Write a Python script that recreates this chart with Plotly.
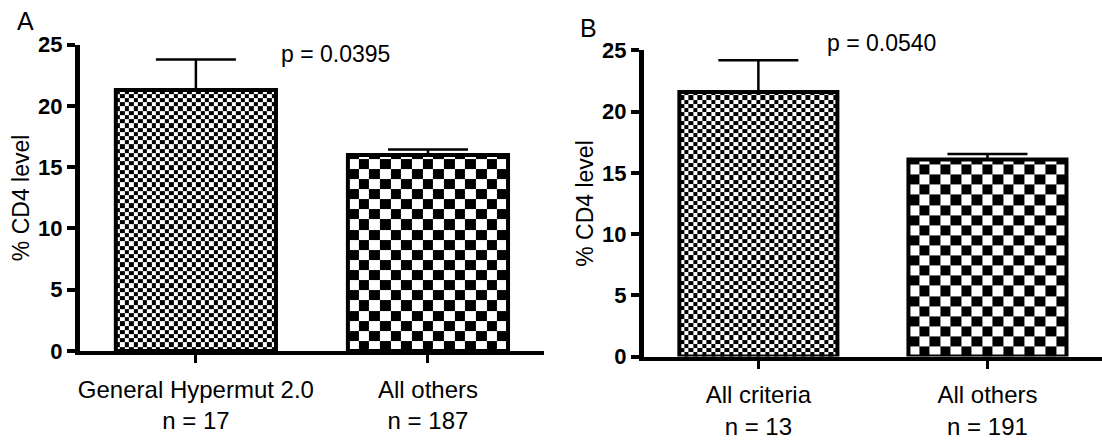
import numpy as np
import plotly.graph_objects as go

# ---- data ----
cats_a = ["General Hypermut 2.0<br>n = 17", "All others<br>n = 187"]
vals_a = [21.3, 16.0]
err_a = [2.5, 0.45]
p_a = "p = 0.0395"

cats_b = ["All criteria<br>n = 13", "All others<br>n = 191"]
vals_b = [21.6, 16.1]
err_b = [2.6, 0.45]
p_b = "p = 0.0540"

y_ticks = [0, 5, 10, 15, 20, 25]
y_title = "% CD4 level"

FONT = "Liberation Sans, Arial, sans-serif"
W, H = 1102, 440
BAR_W = 0.69
YMAX = 25

# panel geometry in pixels (style/layout)
panels = [
    dict(cats=cats_a, vals=vals_a, errs=err_a, x0=78, x1=543, y0=362, y1=35, xa="x", ya="y"),
    dict(cats=cats_b, vals=vals_b, errs=err_b, x0=643, x1=W, y0=368, y1=41, xa="x2", ya="y2"),
]
CHECK_PX = [4.5, 10.8]  # checker square size in px for first / second bar

fig = go.Figure()


def checker(xc, top, cw, ch):
    nx = max(1, int(round(BAR_W / cw)))
    xs = np.linspace(xc - BAR_W / 2, xc + BAR_W / 2, nx + 1)
    ny = int(np.ceil(top / ch))
    ys = np.minimum(np.arange(ny + 1) * ch, top)
    z = (np.add.outer(np.arange(ny), np.arange(nx)) % 2).astype(float)
    return xs, ys, z


for p in panels:
    px_per_x = (p["x1"] - p["x0"]) / 2.0
    px_per_y = (p["y0"] - p["y1"]) / YMAX
    for i, (c, v, e) in enumerate(zip(p["cats"], p["vals"], p["errs"])):
        cw = CHECK_PX[i] / px_per_x
        ch = CHECK_PX[i] / px_per_y
        xs, ys, z = checker(i, v, cw, ch)
        fig.add_trace(go.Heatmap(
            x=xs, y=ys, z=z, xaxis=p["xa"], yaxis=p["ya"],
            colorscale=[[0, "white"], [1, "black"]], zmin=0, zmax=1,
            showscale=False, hoverinfo="skip",
        ))
        fig.add_trace(go.Bar(
            x=[i], y=[v], xaxis=p["xa"], yaxis=p["ya"], width=BAR_W,
            marker=dict(color="rgba(0,0,0,0)", line=dict(color="black", width=4)),
            error_y=dict(type="data", array=[e], arrayminus=[0], symmetric=False,
                         color="black", thickness=2.5, width=40),
            showlegend=False, hoverinfo="skip",
        ))

axis_common = dict(showline=True, linecolor="black", ticks="outside", tickcolor="black",
                   showgrid=False, zeroline=False)


def xaxis_def(p, anchor):
    return dict(domain=[p["x0"] / W, p["x1"] / W], anchor=anchor, range=[-0.5, 1.5],
                tickvals=[0, 1], ticktext=p["cats"], linewidth=4, ticklen=8, tickwidth=3,
                ticklabelstandoff=6,
                tickfont=dict(family=FONT, size=24, color="black"), **axis_common)


def yaxis_def(p, anchor):
    return dict(domain=[(H - p["y0"]) / H, (H - p["y1"]) / H], anchor=anchor, range=[0, YMAX],
                tickvals=y_ticks, linewidth=5, ticklen=8, tickwidth=4,
                tickfont=dict(family=FONT, size=22, color="black", weight="bold"),
                title=dict(text=y_title, font=dict(family=FONT, size=23, color="black"), standoff=3),
                **axis_common)


fig.update_layout(
    width=W, height=H, margin=dict(l=0, r=0, t=0, b=0),
    plot_bgcolor="white", paper_bgcolor="white",
    xaxis=xaxis_def(panels[0], "y"),
    yaxis=yaxis_def(panels[0], "x"),
    xaxis2=xaxis_def(panels[1], "y2"),
    yaxis2=yaxis_def(panels[1], "x2"),
    annotations=[
        dict(text="A", x=24 / W, y=1 - 10 / H, xref="paper", yref="paper", showarrow=False,
             xanchor="center", yanchor="middle", font=dict(family=FONT, size=25, color="black")),
        dict(text="B", x=588 / W, y=1 - 17 / H, xref="paper", yref="paper", showarrow=False,
             xanchor="center", yanchor="middle", font=dict(family=FONT, size=25, color="black")),
        dict(text=p_a, x=334 / W, y=1 - 45 / H, xref="paper", yref="paper", showarrow=False,
             xanchor="center", yanchor="middle", font=dict(family=FONT, size=23, color="black")),
        dict(text=p_b, x=881 / W, y=1 - 33 / H, xref="paper", yref="paper", showarrow=False,
             xanchor="center", yanchor="middle", font=dict(family=FONT, size=23, color="black")),
    ],
)

fig.write_html("out.html")
